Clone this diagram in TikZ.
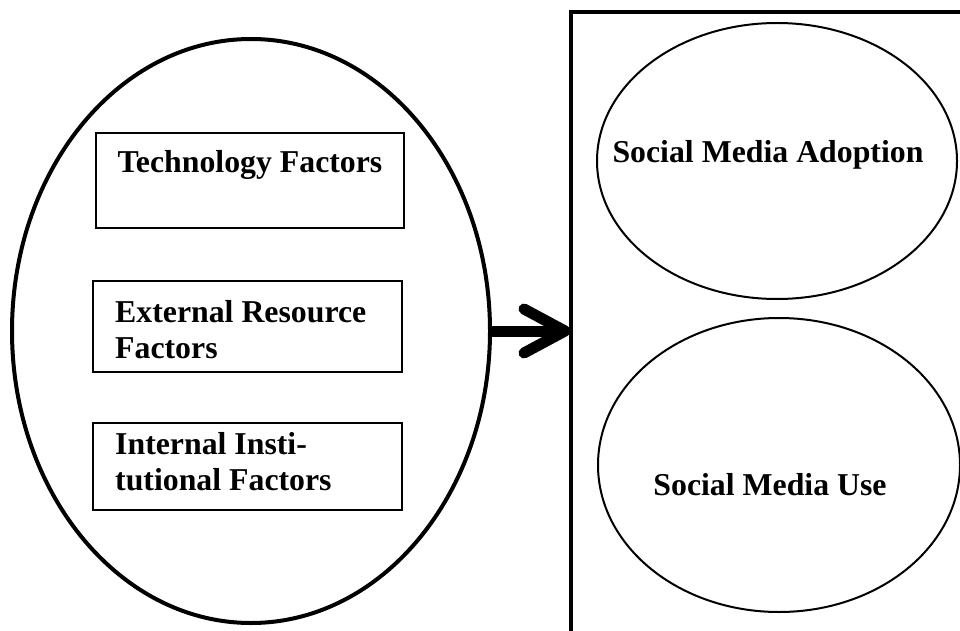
\documentclass[tikz,border=0pt]{standalone}
\usepackage{fontspec}
\setmainfont{Liberation Serif}
\usetikzlibrary{shapes.geometric}
\begin{document}
\begin{tikzpicture}[x=1pt,y=-1pt,
  lbl/.style={font=\fontsize{31.8}{36}\selectfont\bfseries, inner sep=0pt},
  factorbox/.style={draw, line width=2pt, rectangle, inner sep=0pt},
  outcome/.style={draw, line width=2pt, ellipse, inner sep=0pt},
  thick arrow/.style={line width=11pt},
]
\useasboundingbox (0,0) rectangle (960,631);
\clip (0,0) rectangle (960,631);

% left group of determinants
\node[draw, ellipse, line width=4pt, minimum width=478, minimum height=584, inner sep=0pt] (drivers) at (251,331) {};

\node[factorbox, minimum width=308, minimum height=95] (tech) at (250,180.5) {};
\node[factorbox, minimum width=309, minimum height=91] (ext) at (247.5,326.5) {};
\node[factorbox, minimum width=309, minimum height=87] (int) at (247.5,466.5) {};

% multi-line labels are placed by the baseline of their last line
\node[lbl, anchor=base] (techtxt) at (250,173) {Technology Factors};
\node[lbl, anchor=base west, align=left] (exttxt) at (115,358) {External Resource\\Factors};
\node[lbl, anchor=base west, align=left] (inttxt) at (115,490) {Internal Insti-\\tutional Factors};

% right panel with outcomes
\coordinate (panelbottom) at (571,640);
\coordinate (panelcorner) at (571,12);
\coordinate (panelright) at (970,12);
\draw[line width=4pt] (panelbottom) -- (panelcorner) -- (panelright);

\node[outcome, minimum width=360, minimum height=276] (adopt) at (777,161) {};
\node[outcome, minimum width=362, minimum height=294] (use) at (779,465) {};
\node[lbl, anchor=base] (adopttxt) at (768,163) {Social Media Adoption};
\node[lbl, anchor=base] (usetxt) at (770,495) {Social Media Use};

% connecting arrow
\coordinate (tip) at (565,331);
\coordinate (barbup) at (524,309);
\coordinate (barbdown) at (524,353);
\draw[thick arrow] (drivers.east) -- (tip);
\draw[thick arrow, line cap=round, line join=round] (barbup) -- (tip) -- (barbdown);
\end{tikzpicture}
\end{document}
